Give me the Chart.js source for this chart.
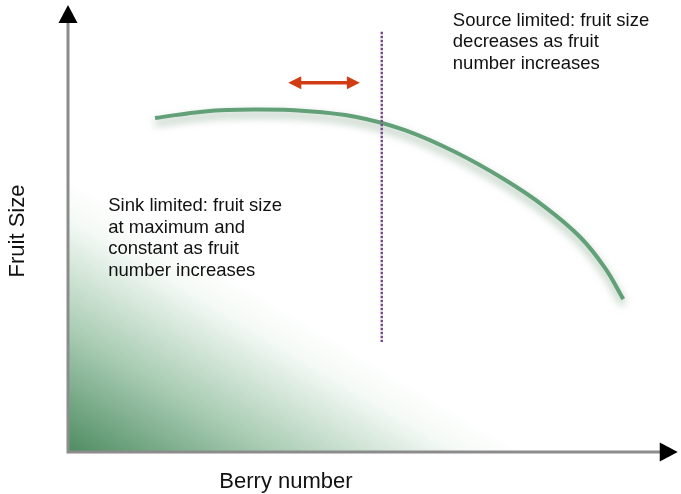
<!DOCTYPE html>
<html>
<head>
<meta charset="utf-8">
<script src="https://cdn.jsdelivr.net/npm/chart.js@4/dist/chart.umd.min.js"></script>
<style>
html,body{margin:0;padding:0;background:#fff;}
#wrap{width:681px;height:494px;position:relative;}
</style>
</head>
<body>
<div id="wrap"><canvas id="c" width="681" height="494"></canvas></div>
<script>
// ---- data (axis units 0..100) ----
const curveX = [14.7, 23.1, 31.6, 40.0, 48.5, 56.9, 65.4, 73.8, 80.6, 86.5, 90.7, 93.8];
const curveY = [74.7, 76.2, 76.6, 76.3, 75.0, 72.0, 67.1, 60.9, 54.8, 48.1, 41.2, 34.2];
const dividerX = [53.0, 53.0];
const dividerY = [94.0, 24.6];
const shiftX = [37.2, 49.3];
const shiftY = [82.6, 82.6];
const sinkZoneX = [0, 78];
const sinkZoneY = [62, 0];
const sourceLines = ["Source limited: fruit size", "decreases as fruit", "number increases"];
const sinkLines = ["Sink limited: fruit size", "at maximum and", "constant as fruit", "number increases"];
const xTitle = "Berry number";
const yTitle = "Fruit Size";

const pts = (xs, ys) => xs.map((x, i) => ({x: x, y: ys[i]}));

const FONT = '"Liberation Sans", Arial, sans-serif';

const decor = {
  id: 'decor',
  beforeDatasetDraw(chart, args) {
    if (args.index === 1) {
      chart.ctx.save();
      chart.ctx.shadowColor = 'rgba(70,120,80,0.55)';
      chart.ctx.shadowBlur = 9;
      chart.ctx.shadowOffsetY = 5;
    }
  },
  afterDatasetDraw(chart, args) {
    if (args.index === 1) chart.ctx.restore();
    if (args.index === 3) {
      const ctx = chart.ctx, xs = chart.scales.x, ys = chart.scales.y;
      const y = ys.getPixelForValue(shiftY[0]);
      const xl = xs.getPixelForValue(shiftX[0]);
      const xr = xs.getPixelForValue(shiftX[1]);
      ctx.save();
      ctx.fillStyle = '#d23c14';
      ctx.beginPath();
      ctx.moveTo(xl, y); ctx.lineTo(xl + 13, y - 6.5); ctx.lineTo(xl + 13, y + 6.5); ctx.closePath(); ctx.fill();
      ctx.beginPath();
      ctx.moveTo(xr, y); ctx.lineTo(xr - 13, y - 6.5); ctx.lineTo(xr - 13, y + 6.5); ctx.closePath(); ctx.fill();
      ctx.restore();
    }
  },
  afterDraw(chart) {
    const ctx = chart.ctx, xs = chart.scales.x, ys = chart.scales.y;
    const x0 = xs.getPixelForValue(0), y0 = ys.getPixelForValue(0);
    const yTop = ys.getPixelForValue(100);
    const xEnd = xs.getPixelForValue(103);
    ctx.save();
    ctx.strokeStyle = '#8c8c8c';
    ctx.lineWidth = 3;
    ctx.beginPath();
    ctx.moveTo(x0, y0 + 1.5); ctx.lineTo(x0, yTop + 14);
    ctx.moveTo(x0 - 1.5, y0); ctx.lineTo(xEnd - 14, y0);
    ctx.stroke();
    ctx.fillStyle = '#000';
    ctx.beginPath();
    ctx.moveTo(x0, yTop); ctx.lineTo(x0 - 9.5, yTop + 18); ctx.lineTo(x0 + 9.5, yTop + 18); ctx.closePath(); ctx.fill();
    ctx.beginPath();
    ctx.moveTo(xEnd, y0); ctx.lineTo(xEnd - 18, y0 - 9.5); ctx.lineTo(xEnd - 18, y0 + 9.5); ctx.closePath(); ctx.fill();
    ctx.fillStyle = '#111';
    ctx.font = '18.5px ' + FONT;
    ctx.textAlign = 'left';
    ctx.textBaseline = 'middle';
    const sx = xs.getPixelForValue(65.0);
    sourceLines.forEach((t, i) => ctx.fillText(t, sx, 20.5 + i * 21.6));
    const kx = xs.getPixelForValue(6.8);
    sinkLines.forEach((t, i) => ctx.fillText(t, kx, 206 + i * 21.6));
    ctx.font = '22px ' + FONT;
    ctx.textAlign = 'center';
    ctx.fillText(xTitle, 286, 482);
    ctx.save();
    ctx.translate(18, 231);
    ctx.rotate(-Math.PI / 2);
    ctx.fillText(yTitle, 0, 0);
    ctx.restore();
    ctx.restore();
  }
};

new Chart(document.getElementById('c'), {
  type: 'line',
  data: {
    datasets: [
      {
        data: pts(sinkZoneX, sinkZoneY),
        borderWidth: 0,
        pointRadius: 0,
        tension: 0,
        fill: 'origin',
        backgroundColor: (ctx) => {
          const ch = ctx.chart, a = ch.chartArea;
          if (!a) return 'rgba(90,150,110,0.5)';
          const xs = ch.scales.x, ys = ch.scales.y;
          const cx = xs.getPixelForValue(0), cy = ys.getPixelForValue(0);
          const ax = xs.getPixelForValue(sinkZoneX[0]), ay = ys.getPixelForValue(sinkZoneY[0]);
          const bx = xs.getPixelForValue(sinkZoneX[1]), by = ys.getPixelForValue(sinkZoneY[1]);
          const dx = bx - ax, dy = by - ay;
          const t = ((cx - ax) * dx + (cy - ay) * dy) / (dx * dx + dy * dy);
          const fx = ax + t * dx, fy = ay + t * dy;
          const g = ch.ctx.createLinearGradient(cx, cy, fx, fy);
          g.addColorStop(0, 'rgb(78,140,98)');
          g.addColorStop(0.45, 'rgb(170,205,180)');
          g.addColorStop(0.85, 'rgb(245,250,246)');
          g.addColorStop(1, 'rgba(255,255,255,1)');
          return g;
        },
        order: 4
      },
      {
        data: pts(curveX, curveY),
        borderColor: '#62a078',
        borderWidth: 4,
        pointRadius: 0,
        tension: 0.4,
        borderCapStyle: 'butt',
        fill: false,
        order: 2
      },
      {
        data: pts(dividerX, dividerY),
        borderColor: '#7a4c8c',
        borderWidth: 2.5,
        borderDash: [2.5, 1.5],
        pointRadius: 0,
        fill: false,
        order: 1
      },
      {
        data: pts([shiftX[0] + 1, shiftX[1] - 1], shiftY),
        borderColor: '#d23c14',
        borderWidth: 3.5,
        pointRadius: 0,
        fill: false,
        order: 0
      }
    ]
  },
  options: {
    responsive: false,
    animation: false,
    layout: {padding: {left: 68, right: 21, top: 5, bottom: 42}},
    plugins: {legend: {display: false}, tooltip: {enabled: false}},
    scales: {
      x: {type: 'linear', min: 0, max: 100, display: false},
      y: {type: 'linear', min: 0, max: 100, display: false}
    }
  },
  plugins: [decor]
});
</script>
</body>
</html>
